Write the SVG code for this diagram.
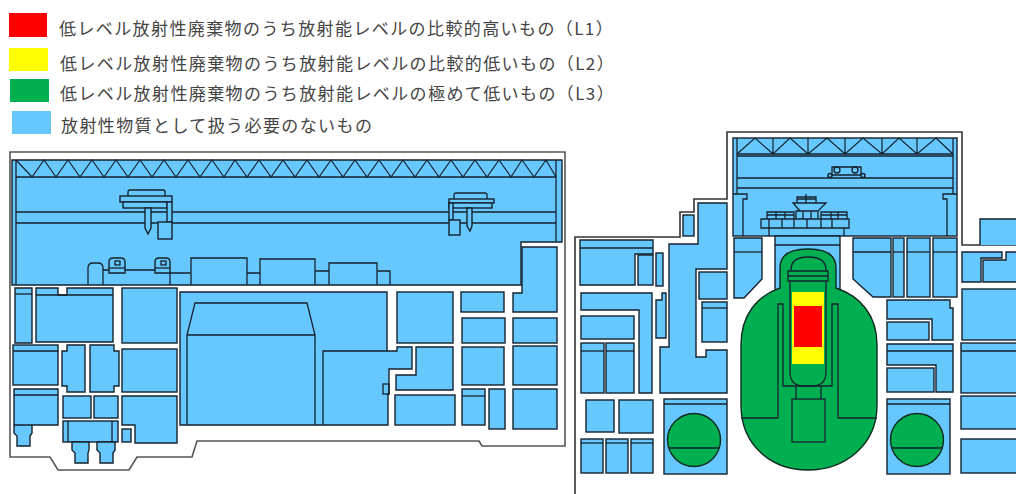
<svg xmlns="http://www.w3.org/2000/svg" width="1016" height="494" viewBox="0 0 1016 494">
<style>
text{font-family:"Noto Sans CJK JP","Noto Sans",sans-serif;font-size:17px;letter-spacing:1.4px;fill:#444;text-spacing-trim:space-all}
.b{fill:#66c8ff;stroke:#16222e;stroke-width:1.4;stroke-linejoin:miter}
.g{fill:#00b050;stroke:#0e2a20;stroke-width:1.4}
.l{fill:none;stroke:#16222e;stroke-width:1.3}
.t{fill:none;stroke:#16222e;stroke-width:1.2}
.o{fill:none;stroke:#555;stroke-width:1.6}
.o2{fill:none;stroke:#333;stroke-width:1.6}
</style>
<g id="legend">
<rect x="9" y="13" width="38" height="24" fill="#ff0000"/>
<rect x="9" y="48" width="39" height="23" fill="#ffff00"/>
<rect x="10" y="79" width="39" height="23" fill="#00b050"/>
<rect x="12" y="111" width="39" height="23" fill="#66c8ff"/>
<text x="59" y="35">低レベル放射性廃棄物のうち放射能レベルの比較的高いもの（L1）</text>
<text x="60" y="70">低レベル放射性廃棄物のうち放射能レベルの比較的低いもの（L2）</text>
<text x="60" y="100">低レベル放射性廃棄物のうち放射能レベルの極めて低いもの（L3）</text>
<text x="61" y="132">放射性物質として扱う必要のないもの</text>
</g>
<g id="left-building">
<path class="o" d="M10,152H565V446H482L479,441H197L192,457H137L129,470H58L50,457H10Z"/>
<path class="b" d="M12,160H562V242H521V285H12Z"/>
<path class="l" d="M16,160V285M556,160V242M16,177H556M16,212H556M16,223H556"/>
<path class="t" d="M16,160L32,177 44,160 56,177 68,160 80,177 92,160 104,177 116,160 128,177 140,160 152,177 164,160 176,177 188,160 200,177 212,160 224,177 235,160 247,177 259,160 271,177 283,160 295,177 307,160 319,177 331,160 343,177 355,160 367,177 379,160 391,177 403,160 415,177 427,160 439,177 451,160 463,177 475,160 487,177 499,160 511,177 522,160 534,177 546,160 556,177"/>
<path class="l" d="M128,196V192Q128,190 130,190H163Q165,190 165,192V196"/>
<rect class="b" x="120" y="196" width="52" height="6"/>
<rect class="b" x="123" y="202" width="44" height="6"/>
<path class="b" d="M145,208H151V228L148,234 145,228Z"/>
<rect class="b" x="167" y="202" width="5" height="20"/>
<rect class="b" x="158" y="222" width="14" height="17"/>
<path class="l" d="M454,199V195Q454,193 456,193H485Q487,193 487,195V199"/>
<rect class="b" x="449" y="199" width="45" height="4"/>
<rect class="b" x="449" y="203" width="43" height="5"/>
<path class="b" d="M467,208H472V226L470,231 467,226Z"/>
<rect class="b" x="449" y="203" width="4" height="17"/>
<rect class="b" x="449" y="220" width="11" height="15"/>
<path class="l" d="M88,285V268Q88,263 93,263H98Q103,263 103,268V285M103,270H109M125,270H155M170,273V285M170,273H191M247,273H260"/>
<path class="b" d="M109,273V262Q109,258 113,258H121Q125,258 125,262V273Z"/>
<path class="l" d="M109,268H125"/>
<rect class="l" x="115" y="261" width="5" height="4"/>
<path class="b" d="M155,273V262Q155,258 159,258H166Q170,258 170,262V273Z"/>
<path class="l" d="M155,268H170"/>
<rect class="l" x="161" y="261" width="5" height="4"/>
<path class="l" d="M191,285V258H247V285M260,285V259H315V285M315,271H329M329,285V263H377V285M377,271H390V285"/>
<path class="b" d="M15,288H32V343H15Z"/><path class="l" d="M15,294H32"/>
<path class="b" d="M36,288H58V295H67V288H113V342H36Z"/><path class="l" d="M36,295H113"/>
<rect class="b" x="122" y="288" width="55" height="55"/>
<path class="b" d="M180,292H387V351H397V347H412V369H389V394H388V425H180Z"/>
<path class="l" d="M323,425V351H387M187,425V335L195,303H307L315,335V425M187,335H315"/>
<rect class="l" x="383" y="384" width="6" height="10"/>
<rect class="b" x="397" y="292" width="56" height="51"/>
<path class="b" d="M416,347H453V390H396V375H416Z"/>
<rect class="b" x="395" y="395" width="60" height="30"/>
<rect class="b" x="461" y="292" width="43" height="20"/>
<rect class="b" x="462" y="318" width="43" height="25"/>
<rect class="b" x="462" y="347" width="42" height="38"/>
<rect class="b" x="462" y="389" width="23" height="36"/><path class="l" d="M462,396H485"/>
<rect class="b" x="489" y="389" width="16" height="40"/>
<rect class="b" x="513" y="389" width="44" height="40"/>
<rect class="b" x="513" y="346" width="44" height="39"/>
<rect class="b" x="513" y="318" width="44" height="25"/>
<path class="b" d="M522,247H557V312H513V293H522Z"/>
<rect class="b" x="13" y="345" width="45" height="40"/><path class="l" d="M13,351H58"/>
<path class="b" d="M67,345H85V392H67V386H62V351H67Z"/>
<path class="b" d="M90,345H114V351H119V386H114V392H90Z"/>
<rect class="b" x="122" y="349" width="55" height="43"/>
<path class="b" d="M14,389H58V425H32V433L30,436V446H17V436L14,433Z"/><path class="l" d="M14,395H58M14,425H32"/>
<rect class="b" x="63" y="396" width="28" height="22"/>
<rect class="b" x="94" y="396" width="24" height="22"/>
<rect class="b" x="63" y="421" width="55" height="21"/><path class="l" d="M68,421V442M112,421V442"/>
<path class="b" d="M72,442H89V450L88,453V463H75V453L72,450Z"/>
<path class="b" d="M97,442H115V450L113,453V463H100V453L97,450Z"/>
<path class="b" d="M122,396H177V443H135V425H122Z"/>
<rect class="b" x="122" y="429" width="9" height="13"/>
</g>
<g id="right-building">
<path class="o2" d="M575,494V237H680V212H694V199H727V132H962V245H1016"/>
<rect class="b" x="733" y="138" width="224" height="98"/>
<path class="l" d="M737,138V194M953,138V194M737,154H953M737,156H953M737,178H953M737,188H953"/>
<path class="t" d="M737,154L755,138 773,154 790,138 808,154 827,138 845,154 863,138 882,154 899,138 917,154 936,138 953,154M773,138V154M808,138V154M845,138V154M882,138V154M917,138V154"/>
<path class="l" d="M832,175V167H861V175M832,175H861"/>
<circle class="l" cx="837" cy="170" r="3"/><circle class="l" cx="855" cy="170" r="3"/>
<circle class="b" cx="830" cy="175.500" r="2"/><circle class="b" cx="863" cy="175.500" r="2"/>
<path class="l" d="M733,194H747V199H743V236M957,194H943V199H947V236"/>
<path class="l" d="M761,219H849V228H761ZM769,219V236M782,219V228M794,219V228M807,219V228M821,219V228M832,219V228M844,228V236"/>
<path class="l" d="M767,219V212H794V219M767,215H794M776,212V219M785,212V219M821,219V212H847V219M821,215H847M831,212V219M838,212V219"/>
<path class="l" d="M796,219V211H818V219M803,211V219M811,211V219M793,203H826L818,211H800ZM806,194V203M797,203V197H816V203M797,199H816"/>
<path class="b" d="M775,236H840V290H775Z"/><path class="l" d="M775,245H840"/>
<rect class="b" x="683" y="215" width="11" height="21"/>
<path class="b" d="M580,240H653V254H635V285H580Z"/><path class="l" d="M580,248H653"/>
<rect class="b" x="638" y="255" width="15" height="30"/>
<rect class="b" x="656" y="253" width="7" height="33"/>
<path class="b" d="M698,203H727V269H696V357H706V350H727V393H660V347H669V244H698Z"/>
<rect class="b" x="699" y="272" width="28" height="27"/>
<rect class="b" x="702" y="302" width="25" height="40"/><path class="l" d="M702,308H727"/>
<path class="b" d="M662,293H666V338H656V300H662Z"/>
<path class="b" d="M581,293H652V393H639V310H581Z"/>
<rect class="b" x="581" y="316" width="53" height="23"/>
<rect class="b" x="581" y="343" width="23" height="50"/><path class="l" d="M581,351H604"/>
<rect class="b" x="606" y="343" width="28" height="50"/><path class="l" d="M606,351H634"/>
<rect class="b" x="586" y="400" width="28" height="32"/>
<rect class="b" x="619" y="400" width="34" height="33"/>
<rect class="b" x="581" y="439" width="22" height="34"/><path class="l" d="M581,443H603"/>
<rect class="b" x="606" y="439" width="22" height="34"/><path class="l" d="M606,443H628"/>
<rect class="b" x="631" y="439" width="22" height="34"/><path class="l" d="M631,443H653"/>
<path class="b" d="M734,238H762V279L744,298H734Z"/><path class="l" d="M734,252H762"/>
<path class="b" d="M853,238H891V297H873L853,279Z"/><path class="l" d="M853,252H891"/>
<rect class="b" x="893" y="238" width="11" height="59"/><path class="l" d="M893,252H904"/>
<rect class="b" x="907" y="238" width="23" height="59"/><path class="l" d="M907,252H930"/>
<rect class="b" x="933" y="238" width="24" height="59"/><path class="l" d="M933,252H957"/>
<path class="b" d="M887,300H950V308H953V340H932V319H887Z"/>
<rect class="b" x="887" y="322" width="42" height="18"/>
<path class="b" d="M887,344H953V392H936V365H887Z"/><path class="l" d="M887,351H953"/>
<rect class="b" x="887" y="368" width="47" height="24"/>
<rect class="b" x="664" y="399" width="63" height="75"/><path class="l" d="M664,404H727"/>
<circle class="g" cx="694" cy="440" r="26.500"/><path class="l" d="M669,448H719"/>
<rect class="b" x="887" y="399" width="63" height="75"/><path class="l" d="M887,404H950"/>
<circle class="g" cx="917" cy="440" r="26.500"/><path class="l" d="M892,448H942"/>
<path class="b" d="M980,245V219H1017V245"/>
<path class="b" d="M962,252H1002V258H981V282H962Z"/>
<path class="b" d="M983,260H1006V252H1017V282H983Z"/>
<rect class="b" x="962" y="289" width="55" height="51"/>
<rect class="b" x="961" y="343" width="56" height="50"/><path class="l" d="M961,351H1016"/>
<rect class="b" x="961" y="396" width="56" height="33"/>
<rect class="b" x="961" y="439" width="56" height="34"/>
<g id="reactor">
<path class="g" d="M780,288V268Q780,249 808,249Q836,249 836,268V288C860,296 877,315 877,345V405C877,445 845,470 808,470C771,470 741,445 741,405V345C741,315 757,296 780,288Z"/>
<rect x="792" y="292" width="32" height="72" fill="#ffff00"/>
<rect x="794" y="306" width="28" height="41" fill="#ff0000"/>
<path class="l" d="M791,271V270Q791,257 808,257Q826,257 826,270V271M788,271H828V281H788ZM788,276H828M790,281V372Q790,386 804,386H812Q826,386 826,372V281"/>
<path class="l" d="M741,418H778V304H783V386H832V304H838V418H877"/>
<path class="l" d="M796,386V399M821,386V399"/>
<rect class="l" x="792" y="399" width="33" height="43"/>
</g>
</g>
</svg>
